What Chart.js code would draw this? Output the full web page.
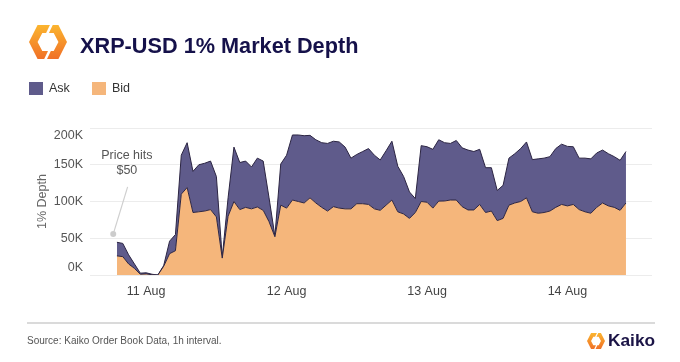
<!DOCTYPE html>
<html>
<head>
<meta charset="utf-8">
<script src="https://cdn.jsdelivr.net/npm/chart.js@4.4.1/dist/chart.umd.min.js"></script>
<style>
  body { margin: 0; background: #fff; font-family: "Liberation Sans", Arial, Helvetica, sans-serif; }
  #wrap { position: relative; width: 680px; height: 362px; overflow: hidden; }
  #chart { position: absolute; left: 0; top: 0; }
  .abs { position: absolute; white-space: nowrap; }
  .title { left: 80px; top: 35px; font-size: 21.7px; line-height: 22px; font-weight: bold; color: #15114a; }
  .legend { top: 82px; font-size: 12.5px; line-height: 12.5px; color: #333; }
  .swatch { position: absolute; width: 14px; height: 13px; top: 82px; }
  .rule { left: 27px; top: 322px; width: 628px; height: 2px; background: #dadada; }
  .source { left: 27px; top: 336px; font-size: 10px; line-height: 10px; color: #555; }
  .brand { left: 608px; top: 332px; font-size: 17.3px; line-height: 17px; font-weight: bold; color: #1b1446; }
</style>
</head>
<body>
<div id="wrap">
  <canvas id="chart" width="680" height="362"></canvas>

  <svg class="abs" style="left:29px;top:25px" width="38" height="34" viewBox="0 0 40 36" preserveAspectRatio="none">
    <defs>
      <linearGradient id="kg" x1="0" y1="0" x2="0" y2="1">
        <stop offset="0" stop-color="#fbb52f"/>
        <stop offset="1" stop-color="#f07027"/>
      </linearGradient>
    </defs>
    <path fill="url(#kg)" d="M22,0 L9,0 L0,18 L9,36 L16,36 L20,27.5 L14,27.5 L9,18 L14,8.5 L18,8.5 Z"/>
    <path fill="url(#kg)" d="M25,0 L31,0 L40,18 L31,36 L19,36 L23,27.5 L26,27.5 L31,18 L26,8.5 L21,8.5 Z"/>
  </svg>
  <div class="abs title">XRP-USD 1% Market Depth</div>

  <div class="swatch" style="left:29px;background:#5f5b8b"></div>
  <div class="abs legend" style="left:49px">Ask</div>
  <div class="swatch" style="left:92px;background:#f5b67b"></div>
  <div class="abs legend" style="left:112px">Bid</div>

  <div class="abs rule"></div>
  <div class="abs source">Source: Kaiko Order Book Data, 1h interval.</div>
  <svg class="abs" style="left:587px;top:333px" width="18" height="16" viewBox="0 0 40 36" preserveAspectRatio="none">
    <path fill="url(#kg)" d="M22,0 L9,0 L0,18 L9,36 L16,36 L20,27.5 L14,27.5 L9,18 L14,8.5 L18,8.5 Z"/>
    <path fill="url(#kg)" d="M25,0 L31,0 L40,18 L31,36 L19,36 L23,27.5 L26,27.5 L31,18 L26,8.5 L21,8.5 Z"/>
  </svg>
  <div class="abs brand">Kaiko</div>
</div>

<script>
// hours relative to 11 Aug 00:00, hourly samples
const hours = [-5, -4, -3, -2, -1, 0, 1, 2, 3, 4, 5, 6, 7, 8, 9, 10, 11, 12, 13, 14, 15, 16, 17, 18, 19, 20,
  21, 22, 23, 24, 25, 26, 27, 28, 29, 30, 31, 32, 33, 34, 35, 36, 37, 38, 39, 40, 41, 42, 43, 44, 45, 46,
  47, 48, 49, 50, 51, 52, 53, 54, 55, 56, 57, 58, 59, 60, 61, 62, 63, 64, 65, 66, 67, 68, 69, 70, 71, 72,
  73, 74, 75, 76, 77, 78, 79, 80, 81, 82];

// depth in thousands of USD
const bid = [26, 25, 15, 9, 1, 1.5, 0.3, 0, 12, 29, 33, 110, 119, 85, 86, 87, 89, 79, 23, 80, 100, 89, 92, 90,
  92.5, 88, 72.5, 52, 95, 91, 102, 100, 98, 105, 98, 92, 87, 93, 91, 90, 90, 97, 97, 96, 90, 88, 95, 102,
  86, 83, 77, 85, 100, 99, 91, 100.5, 100.7, 102, 102, 93, 88.5, 88.5, 96, 85, 87, 74, 77, 95, 98, 100,
  105, 86, 84, 85, 87, 92, 96, 94, 96, 89, 86, 84, 92, 98, 94, 92, 88, 98];

const ask = [18.5, 18, 12.5, 6, 1.5, 1.5, 0.7, 0, 1, 17, 22, 53, 61, 56, 64, 65, 66, 55, 1, 25, 74, 64, 63, 57,
  66.5, 67, 32.5, 1, 56, 72, 88.5, 90.5, 91.5, 85, 86, 88, 92, 89, 90, 84, 69, 67, 71, 76, 73, 68.5, 74, 80,
  62, 51, 36, 19, 76, 75.5, 80, 83.5, 79.3, 77, 81, 80, 81.5, 79.5, 75, 61, 59, 41, 45, 64, 67, 72,
  76, 71, 74, 74, 74, 80, 82, 81, 78.5, 70, 73, 74, 74, 72, 71, 69, 68, 70];

const dayTicks = [0, 24, 48, 72];
const dayLabels = ['11 Aug', '12 Aug', '13 Aug', '14 Aug'];
const depthTicks = [0, 50, 100, 150, 200];

const note = {
  lines: ['Price hits', '$50'],
  textX: -3.3, textY: [162, 142],
  from: { x: -3.17, y: 120 }, to: { x: -5.5, y: 59 },
  dot: { x: -5.63, y: 55.8 }
};

Chart.defaults.font.family = '"Liberation Sans", Arial, Helvetica, sans-serif';

const notePlugin = {
  id: 'note',
  afterDatasetsDraw(chart) {
    const { ctx, scales: { x, y } } = chart;
    ctx.save();
    ctx.strokeStyle = '#cfcfcf';
    ctx.lineWidth = 1.2;
    ctx.beginPath();
    ctx.moveTo(x.getPixelForValue(note.from.x), y.getPixelForValue(note.from.y));
    ctx.lineTo(x.getPixelForValue(note.to.x), y.getPixelForValue(note.to.y));
    ctx.stroke();
    ctx.fillStyle = '#cccccc';
    ctx.beginPath();
    ctx.arc(x.getPixelForValue(note.dot.x), y.getPixelForValue(note.dot.y), 3, 0, Math.PI * 2);
    ctx.fill();
    ctx.fillStyle = '#555';
    ctx.font = '12.5px "Liberation Sans", Arial, sans-serif';
    ctx.textAlign = 'center';
    ctx.textBaseline = 'middle';
    note.lines.forEach((t, i) => {
      ctx.fillText(t, x.getPixelForValue(note.textX), y.getPixelForValue(note.textY[i]));
    });
    ctx.restore();
  }
};

new Chart(document.getElementById('chart'), {
  type: 'line',
  data: {
    datasets: [{
      label: 'Bid',
      data: hours.map((h, i) => ({ x: h, y: bid[i] })),
      backgroundColor: '#f5b67b',
      fill: 'origin'
    }, {
      label: 'Ask',
      data: hours.map((h, i) => ({ x: h, y: ask[i] })),
      backgroundColor: '#5f5b8b',
      fill: '-1'
    }]
  },
  options: {
    responsive: false,
    animation: false,
    layout: { padding: { top: 128, right: 28, bottom: 47, left: 0 } },
    elements: {
      point: { radius: 0 },
      line: { tension: 0, borderWidth: 1, borderColor: '#2b2442' }
    },
    plugins: { legend: { display: false }, tooltip: { enabled: false } },
    scales: {
      x: {
        type: 'linear',
        min: -9.6,
        max: 86.45,
        grid: { display: false, drawTicks: false },
        border: { display: false },
        afterBuildTicks: s => { s.ticks = dayTicks.map(v => ({ value: v })); },
        afterFit: s => { s.height = 40; },
        ticks: {
          autoSkip: false,
          maxRotation: 0,
          padding: 9,
          color: '#444',
          font: { size: 12.5 },
          callback: v => dayLabels[dayTicks.indexOf(v)]
        }
      },
      y: {
        stacked: true,
        min: 0,
        max: 200,
        grid: { color: '#ececec', drawTicks: false },
        border: { display: false },
        afterBuildTicks: s => { s.ticks = depthTicks.map(v => ({ value: v })); },
        afterFit: s => { s.width = 90; },
        ticks: {
          padding: 7,
          color: '#555',
          font: { size: 12.5 },
          callback: v => v === 200 ? ['', '200K'] : v === 0 ? ['0K', ''] : v + 'K'
        },
        title: {
          display: true,
          text: '1% Depth',
          color: '#666',
          font: { size: 12.5 },
          padding: { top: 35, bottom: 0 }
        }
      }
    }
  },
  plugins: [notePlugin]
});
</script>
</body>
</html>
